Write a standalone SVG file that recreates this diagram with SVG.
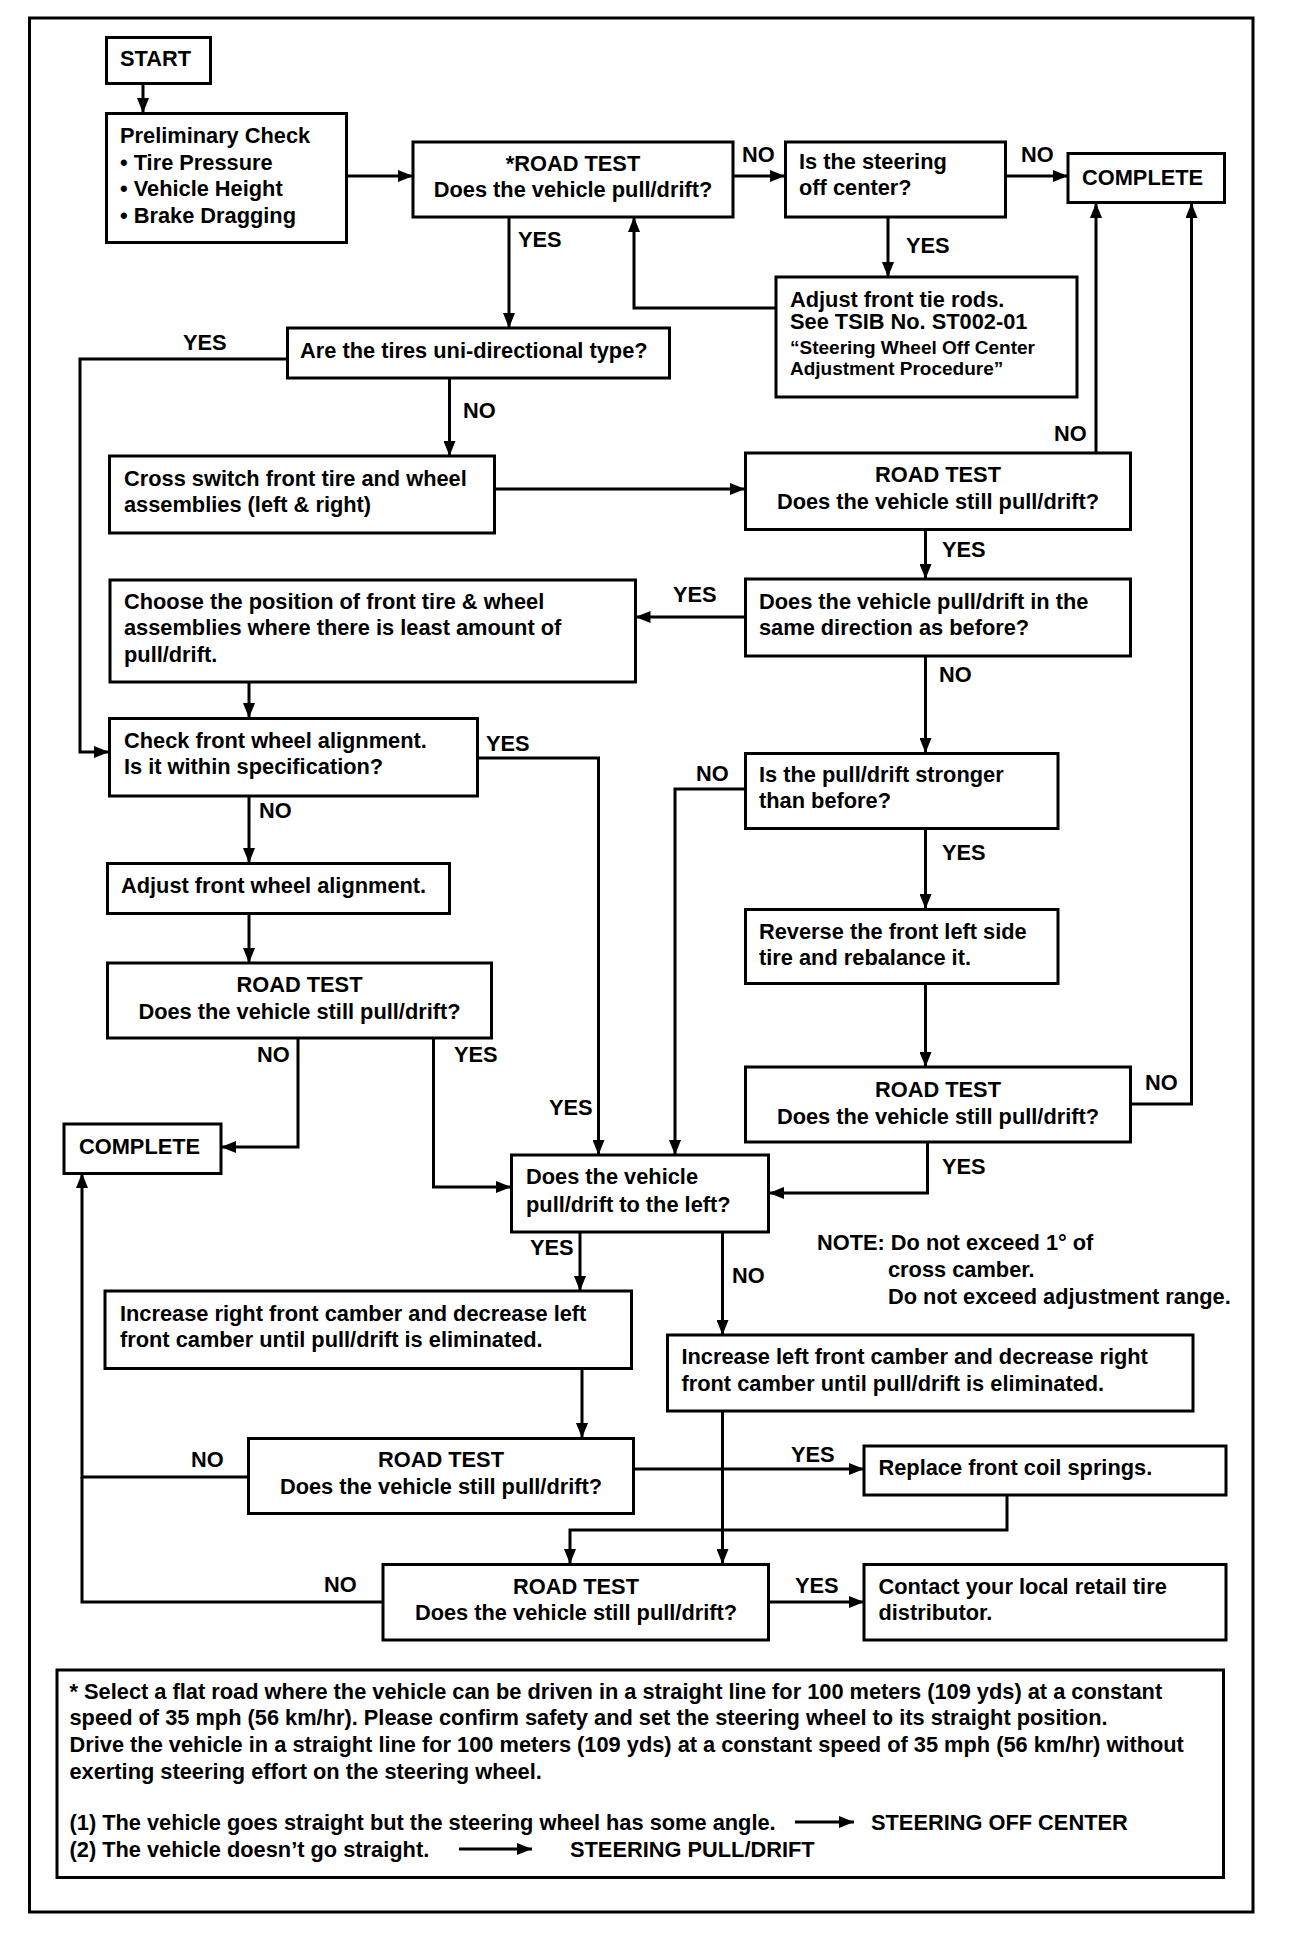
<svg xmlns="http://www.w3.org/2000/svg" width="1312" height="1936" viewBox="0 0 1312 1936">
<style>
.b{fill:#fff;stroke:#000;stroke-width:3}
.c{fill:none;stroke:#000;stroke-width:3}
text{font-family:"Liberation Sans",Arial,Helvetica,sans-serif;font-weight:bold;font-size:21.8px;fill:#000}
.s{font-size:19px}
.m{text-anchor:middle}
</style>
<defs>
<marker id="ah" viewBox="0 0 15 12" refX="15" refY="6" markerWidth="15" markerHeight="12" markerUnits="userSpaceOnUse" orient="auto"><path d="M0,0 L15,6 L0,12 z" fill="#000"/></marker>
</defs>
<rect width="1312" height="1936" fill="#fff"/>
<rect x="29.5" y="18" width="1223.5" height="1894" fill="none" stroke="#000" stroke-width="3"/>

<g id="connectors">
<path class="c" marker-end="url(#ah)" d="M143,83 V113"/>
<path class="c" marker-end="url(#ah)" d="M346,176 H413"/>
<path class="c" marker-end="url(#ah)" d="M733,176 H785"/>
<path class="c" marker-end="url(#ah)" d="M1005,176 H1068"/>
<path class="c" marker-end="url(#ah)" d="M888,217 V277"/>
<path class="c" marker-end="url(#ah)" d="M776,308 H634 V217"/>
<path class="c" marker-end="url(#ah)" d="M509,217 V328"/>
<path class="c" marker-end="url(#ah)" d="M287,359 H80 V752 H109"/>
<path class="c" marker-end="url(#ah)" d="M449.5,378 V456"/>
<path class="c" marker-end="url(#ah)" d="M494,489 H745"/>
<path class="c" marker-end="url(#ah)" d="M1096,453 V203"/>
<path class="c" marker-end="url(#ah)" d="M925.5,529 V579"/>
<path class="c" marker-end="url(#ah)" d="M745,617 H635.5"/>
<path class="c" marker-end="url(#ah)" d="M925.5,656 V753"/>
<path class="c" marker-end="url(#ah)" d="M249,682 V718"/>
<path class="c" marker-end="url(#ah)" d="M478,758 H598.5 V1155"/>
<path class="c" marker-end="url(#ah)" d="M249,796 V863"/>
<path class="c" marker-end="url(#ah)" d="M249,913 V963"/>
<path class="c" marker-end="url(#ah)" d="M298,1038 V1147 H221"/>
<path class="c" marker-end="url(#ah)" d="M433.5,1038 V1187 H511"/>
<path class="c" marker-end="url(#ah)" d="M745,789 H675 V1155"/>
<path class="c" marker-end="url(#ah)" d="M925.5,828 V909"/>
<path class="c" marker-end="url(#ah)" d="M925.5,983 V1067"/>
<path class="c" marker-end="url(#ah)" d="M1130.5,1104 H1191.5 V203"/>
<path class="c" marker-end="url(#ah)" d="M927.5,1142 V1193 H769"/>
<path class="c" marker-end="url(#ah)" d="M580,1232 V1291"/>
<path class="c" marker-end="url(#ah)" d="M722.5,1232 V1335"/>
<path class="c" marker-end="url(#ah)" d="M582,1368 V1438"/>
<path class="c" marker-end="url(#ah)" d="M248,1477 H82 V1173"/>
<path class="c" d="M383,1602 H82 V1477"/>
<path class="c" marker-end="url(#ah)" d="M633,1469 H864"/>
<path class="c" marker-end="url(#ah)" d="M722.5,1411 V1564"/>
<path class="c" marker-end="url(#ah)" d="M1007,1495 V1530 H570 V1564"/>
<path class="c" marker-end="url(#ah)" d="M768.5,1602 H864"/>
</g>

<g id="labels">
<text x="742" y="162">NO</text>
<text x="1021" y="162">NO</text>
<text x="906" y="253">YES</text>
<text x="518" y="247">YES</text>
<text x="183" y="350">YES</text>
<text x="463" y="418">NO</text>
<text x="1054" y="441">NO</text>
<text x="942" y="557">YES</text>
<text x="673" y="602">YES</text>
<text x="939" y="682">NO</text>
<text x="486" y="751">YES</text>
<text x="696" y="781">NO</text>
<text x="259" y="818">NO</text>
<text x="942" y="860">YES</text>
<text x="257" y="1062">NO</text>
<text x="454" y="1062">YES</text>
<text x="1145" y="1090">NO</text>
<text x="549" y="1115">YES</text>
<text x="942" y="1174">YES</text>
<text x="530" y="1255">YES</text>
<text x="732" y="1283">NO</text>
<text x="191" y="1467">NO</text>
<text x="791" y="1462">YES</text>
<text x="324" y="1592">NO</text>
<text x="795" y="1593">YES</text>
</g>

<g id="start"><rect class="b" x="106.5" y="37.5" width="104" height="46"/><text x="120" y="66">START</text></g>
<g id="prelim"><rect class="b" x="106.5" y="113.5" width="240" height="129"/>
<text x="120" y="143">Preliminary Check</text><text x="120" y="169.5">• Tire Pressure</text><text x="120" y="196">• Vehicle Height</text><text x="120" y="222.5">• Brake Dragging</text></g>
<g id="roadtest1"><rect class="b" x="413" y="142" width="320" height="75"/>
<text class="m" x="573" y="171">*ROAD TEST</text><text class="m" x="573" y="197">Does the vehicle pull/drift?</text></g>
<g id="steering"><rect class="b" x="785.5" y="142" width="220" height="75"/>
<text x="799" y="168.5">Is the steering</text><text x="799" y="195">off center?</text></g>
<g id="complete1"><rect class="b" x="1068" y="153.5" width="156.5" height="49"/><text x="1082" y="184.5">COMPLETE</text></g>
<g id="tierods"><rect class="b" x="776" y="277" width="301" height="120"/>
<text x="790" y="307">Adjust front tie rods.</text><text x="790" y="328.5">See TSIB No. ST002-01</text>
<text class="s" x="790" y="353.5">“Steering Wheel Off Center</text><text class="s" x="790" y="375">Adjustment Procedure”</text></g>
<g id="unidir"><rect class="b" x="287.5" y="328" width="382" height="50"/><text x="300" y="358">Are the tires uni-directional type?</text></g>
<g id="cross"><rect class="b" x="109.5" y="456" width="385" height="77"/>
<text x="124" y="486">Cross switch front tire and wheel</text><text x="124" y="512">assemblies (left &amp; right)</text></g>
<g id="roadtest2"><rect class="b" x="745.5" y="453" width="385" height="76.5"/>
<text class="m" x="938" y="482">ROAD TEST</text><text class="m" x="938" y="508.5">Does the vehicle still pull/drift?</text></g>
<g id="samedir"><rect class="b" x="745.5" y="579" width="385" height="77"/>
<text x="759" y="608.5">Does the vehicle pull/drift in the</text><text x="759" y="635">same direction as before?</text></g>
<g id="choose"><rect class="b" x="110" y="580" width="525.5" height="102"/>
<text x="124" y="608.5">Choose the position of front tire &amp; wheel</text><text x="124" y="635">assemblies where there is least amount of</text><text x="124" y="662">pull/drift.</text></g>
<g id="checkalign"><rect class="b" x="109.5" y="718.5" width="368" height="77.5"/>
<text x="124" y="747.5">Check front wheel alignment.</text><text x="124" y="774">Is it within specification?</text></g>
<g id="stronger"><rect class="b" x="745.5" y="753.5" width="312.5" height="75"/>
<text x="759" y="782">Is the pull/drift stronger</text><text x="759" y="807.5">than before?</text></g>
<g id="adjalign"><rect class="b" x="107.5" y="863.5" width="342" height="50"/><text x="121" y="893">Adjust front wheel alignment.</text></g>
<g id="reverse"><rect class="b" x="745.5" y="909.5" width="312.5" height="74"/>
<text x="759" y="938.5">Reverse the front left side</text><text x="759" y="965">tire and rebalance it.</text></g>
<g id="roadtest4"><rect class="b" x="107.5" y="963" width="384" height="75"/>
<text class="m" x="299.5" y="992">ROAD TEST</text><text class="m" x="299.5" y="1018.5">Does the vehicle still pull/drift?</text></g>
<g id="roadtest3"><rect class="b" x="745.5" y="1067" width="385" height="75"/>
<text class="m" x="938" y="1097">ROAD TEST</text><text class="m" x="938" y="1123.5">Does the vehicle still pull/drift?</text></g>
<g id="complete2"><rect class="b" x="64" y="1124" width="157" height="49.5"/><text x="79" y="1154">COMPLETE</text></g>
<g id="toleft"><rect class="b" x="511.5" y="1155" width="257" height="77"/>
<text x="526" y="1184">Does the vehicle</text><text x="526" y="1212">pull/drift to the left?</text></g>
<g id="note"><text x="817" y="1250">NOTE: Do not exceed 1° of</text><text x="888" y="1277">cross camber.</text><text x="888" y="1303.5">Do not exceed adjustment range.</text></g>
<g id="incright"><rect class="b" x="105" y="1291" width="526.5" height="77.5"/>
<text x="120" y="1321">Increase right front camber and decrease left</text><text x="120" y="1347">front camber until pull/drift is eliminated.</text></g>
<g id="incleft"><rect class="b" x="667.5" y="1335" width="525.5" height="76"/>
<text x="681.5" y="1364">Increase left front camber and decrease right</text><text x="681.5" y="1391">front camber until pull/drift is eliminated.</text></g>
<g id="roadtest5"><rect class="b" x="248.5" y="1438.5" width="385" height="75"/>
<text class="m" x="441" y="1467">ROAD TEST</text><text class="m" x="441" y="1493.5">Does the vehicle still pull/drift?</text></g>
<g id="replace"><rect class="b" x="864" y="1446" width="362" height="49"/><text x="878.5" y="1475">Replace front coil springs.</text></g>
<g id="roadtest6"><rect class="b" x="383" y="1564.5" width="385.5" height="75.5"/>
<text class="m" x="576" y="1593.5">ROAD TEST</text><text class="m" x="576" y="1620">Does the vehicle still pull/drift?</text></g>
<g id="contact"><rect class="b" x="864" y="1564.5" width="362" height="75.5"/>
<text x="878.5" y="1593.5">Contact your local retail tire</text><text x="878.5" y="1620">distributor.</text></g>
<g id="footnote"><rect class="b" x="57" y="1670" width="1166.5" height="207.5"/>
<text x="69.5" y="1698.5">* Select a flat road where the vehicle can be driven in a straight line for 100 meters (109 yds) at a constant</text>
<text x="69.5" y="1725">speed of 35 mph (56 km/hr). Please confirm safety and set the steering wheel to its straight position.</text>
<text x="69.5" y="1752">Drive the vehicle in a straight line for 100 meters (109 yds) at a constant speed of 35 mph (56 km/hr) without</text>
<text x="69.5" y="1778.5">exerting steering effort on the steering wheel.</text>
<text x="69.5" y="1830">(1) The vehicle goes straight but the steering wheel has some angle.</text>
<path class="c" marker-end="url(#ah)" d="M795,1822 H854"/>
<text x="871" y="1830">STEERING OFF CENTER</text>
<text x="69.5" y="1857">(2) The vehicle doesn’t go straight.</text>
<path class="c" marker-end="url(#ah)" d="M459,1849 H532"/>
<text x="570" y="1857">STEERING PULL/DRIFT</text>
</g>
</svg>
